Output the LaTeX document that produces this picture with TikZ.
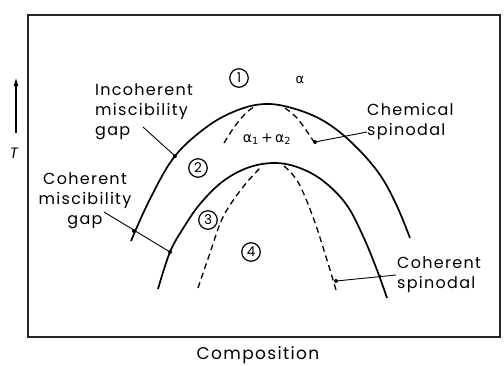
\documentclass[tikz,border=0pt]{standalone}
\usepackage{fontspec}
\setmainfont{Poppins}[LetterSpace=8]
\newfontfamily\grk{DejaVu Sans}
\usetikzlibrary{arrows.meta}
\begin{document}
\begin{tikzpicture}[x=1pt,y=-1pt,
  solidcurve/.style={line width=1.7pt},
  dashcurve/.style={line width=1.3pt, dash pattern=on 6pt off 4pt},
  leader/.style={line width=0.9pt},
  lbl/.style={font=\fontsize{16}{20}\selectfont, inner sep=0pt},
  circnum/.style={circle, draw, line width=1.2pt, inner sep=0pt, minimum size=18.5pt, font=\fontsize{13.5}{13.5}\selectfont},
  tick/.style={fill, circle, inner sep=0pt, minimum size=4pt}]
\useasboundingbox (0,0) rectangle (504,365);
% frame
\draw[line width=1.6pt, black!85] (28,15) rectangle (500,337);
% outer (incoherent) curve
\draw[solidcurve] plot[smooth, tension=0.6] coordinates {(131,241) (150,199) (175,156) (208,126) (238,110) (265,104) (292,108) (322,120) (350,141) (378,172) (396,204) (410,238)};
% inner (coherent) curve
\draw[solidcurve] plot[smooth, tension=0.6] coordinates {(158,289) (170,252) (184,227) (200,204) (222,182) (247,168) (273,163) (297,167) (322,180) (346,204) (363,236) (377,270) (387,298)};
% chemical spinodal
\draw[dashcurve] plot[smooth, tension=0.6] coordinates {(224,143) (235,126) (247,112) (256,106)};
\draw[dashcurve] plot[smooth, tension=0.6] coordinates {(285,108) (296,117) (306,130) (314,142)};
% coherent spinodal
\draw[dashcurve] plot[smooth, tension=0.6] coordinates {(198,288) (210,253) (223,217) (243,187) (262,166)};
\draw[dashcurve] plot[smooth, tension=0.6] coordinates {(284,166) (298,182) (313,217) (327,260) (336,290)};
% T axis arrow
\draw[line width=1.6pt, -{Latex[length=9pt,width=5pt]}] (16,133) -- (16,77);
\node[font=\fontsize{15}{15}\selectfont, inner sep=0pt] (T) at (14,153) {\itshape T};
% region labels
\node[circnum] (r1) at (239,78) {1};
\node[font=\fontsize{13}{13}\grk, inner sep=0pt] (alpha) at (300,80) {α};
\node[circnum] (r2) at (198,168) {2};
\node[circnum] (r3) at (208,220) {3};
\node[circnum] (r4) at (251,252) {4};
\node[font=\fontsize{14}{14}\grk, inner sep=0pt] (a12) at (267,139) {α\textsubscript{1}\,+\,α\textsubscript{2}};
% incoherent miscibility gap
\node[lbl, align=left, anchor=north west] (incoh) at (95,83) {Incoherent\\miscibility\\gap};
\coordinate (incohEnd) at (175,156);
\draw[leader] (143,127) -- (incohEnd);
\node[tick] at (incohEnd) {};
% coherent miscibility gap
\node[lbl, align=center, anchor=north] (coh) at (85,172) {Coherent\\miscibility\\gap};
\coordinate (cohA) at (134,231);
\coordinate (cohB) at (170,252);
\draw[leader] (104,212) -- (cohB);
\node[tick] at (cohA) {};
\node[tick] at (cohB) {};
% chemical spinodal label
\node[lbl, align=left, anchor=north west] (chem) at (367,103) {Chemical\\spinodal};
\coordinate (chemEnd) at (315,142);
\draw[leader] (chemEnd) -- (367,132);
\node[tick] at (chemEnd) {};
% coherent spinodal label
\node[lbl, align=left, anchor=north west] (cohsp) at (397,256) {Coherent\\spinodal};
\coordinate (cohspEnd) at (336,281);
\draw[leader] (cohspEnd) -- (396,275);
\node[tick] at (cohspEnd) {};
\node[tick, minimum size=3pt] at (380,276) {};
% composition
\node[font=\fontsize{17}{17}\selectfont, inner sep=0pt] (comp) at (258,355) {Composition};
\end{tikzpicture}
\end{document}
